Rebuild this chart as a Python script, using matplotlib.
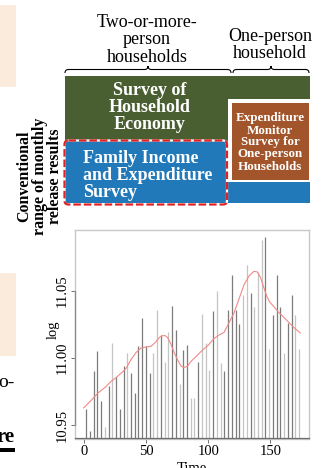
import numpy as np
import matplotlib
matplotlib.use("Agg")
import matplotlib.pyplot as plt
from matplotlib.patches import Rectangle, FancyBboxPatch, PathPatch
from matplotlib.path import Path

# ---- series: log values by time index ----
time = np.arange(2, 174, 3)
log_values = [
    10.962, 10.946, 10.990, 11.005, 10.968, 10.949, 10.979, 11.011, 10.986, 10.962,
    10.994, 11.004, 10.989, 10.974, 11.009, 11.030, 11.009, 10.989, 11.004, 11.036,
    11.017, 10.997, 11.019, 11.039, 11.021, 10.981, 11.006, 11.010, 10.970, 10.970,
    10.997, 11.033, 11.011, 10.991, 11.035, 11.050, 10.996, 10.990, 11.036, 11.062,
    11.036, 11.025, 11.047, 11.069, 11.048, 11.038, 11.064, 11.088, 11.090, 11.007,
    11.032, 11.062, 11.038, 11.004, 11.026, 11.047, 11.032, 11.007,
]
# bar shade per observation: d = dark, l = light
shade = list("dddddldldddldd"
             "ddddlldlldd" "lddll"
             "dllldlldddddlld"
             "llldldddlddll")
trend_t = [0, 6, 11.5, 17, 22, 27, 31.6, 34.3, 38, 42, 46, 50, 54, 58, 61, 63.4, 65.5,
           67.5, 70, 72.8, 75.5, 78.2, 80.8, 83.5, 86.2, 90.2, 95, 100, 104.7, 108.6,
           112.7, 116.6, 120.7, 124.8, 128.8, 132.8, 136.8, 139.5, 142, 144.5, 147,
           149.5, 152, 156.6, 160.5, 164.7, 169, 174]
trend_v = [10.9629, 10.9685, 10.974, 10.978, 10.9826, 10.9862, 10.990, 10.9926, 10.9988,
           11.0040, 11.0074, 11.0082, 11.0086, 11.0120, 11.0155, 11.0166, 11.0166, 11.0150,
           11.0105, 11.0037, 10.9985, 10.9940, 10.9930, 10.9940, 10.9975, 11.0010, 11.0055,
           11.0095, 11.0145, 11.0170, 11.0190, 11.0260, 11.0334, 11.0440, 11.0545, 11.0610,
           11.0645, 11.0640, 11.0600, 11.0530, 11.0460, 11.0415, 11.0390, 11.0340, 11.0305,
           11.0265, 11.0225, 11.0186]
x_ticks = [0, 50, 100, 150]
y_ticks = [10.95, 11.00, 11.05]

SERIF = ["Liberation Serif", "DejaVu Serif"]
plt.rcParams["font.family"] = SERIF

GREEN = "#4a5f31"
BLUE = "#2179ba"
BROWN = "#a2552a"
RED = "#e02222"
BEIGE = "#fbebdc"

fig = plt.figure(figsize=(3.24, 4.68), dpi=100)

# ---- survey coverage diagram (pixel coordinates) ----
ov = fig.add_axes([0, 0, 1, 1], zorder=0)
ov.set_xlim(0, 324)
ov.set_ylim(468, 0)
ov.axis("off")

ov.add_patch(Rectangle((0, 5), 16, 82, color=BEIGE, lw=0))
ov.add_patch(Rectangle((0, 273), 16, 83, color=BEIGE, lw=0))
ov.text(15, 387, "o-", ha="right", va="baseline", fontsize=14, color="black")
ov.text(15, 442, "re", ha="right", va="baseline", fontsize=15, fontweight="bold",
        color="black")
ov.add_patch(Rectangle((0, 448), 15, 4, color="black", lw=0))


def brace(x0, x1, y, h):
    xm = (x0 + x1) / 2
    verts = [(x0, y + h), (x0, y), (x0 + h, y), (xm - h, y), (xm, y), (xm, y - h),
             (xm, y), (xm + h, y), (x1 - h, y), (x1, y), (x1, y + h)]
    codes = [Path.MOVETO, Path.CURVE3, Path.CURVE3, Path.LINETO, Path.CURVE3, Path.CURVE3,
             Path.CURVE3, Path.CURVE3, Path.LINETO, Path.CURVE3, Path.CURVE3]
    ov.add_patch(PathPatch(Path(verts, codes), fc="none", ec="black", lw=0.8))


brace(65, 231, 69.5, 3.5)
brace(233, 309, 69.5, 3.5)

ov.text(147, 40, "Two-or-more-\nperson\nhouseholds", ha="center", va="center",
        fontsize=13, linespacing=1.02)
ov.text(270, 45, "One-person\nhousehold", ha="center", va="center",
        fontsize=13, linespacing=1.02)

ov.add_patch(Rectangle((65, 76), 245, 127, color=GREEN, lw=0))
ov.add_patch(Rectangle((65, 140), 245, 63, color=BLUE, lw=0))
ov.add_patch(Rectangle((228, 99), 82, 83, color="white", lw=0))
ov.add_patch(Rectangle((231.5, 102.5), 77, 77.5, color=BROWN, lw=0))

frame_kw = dict(boxstyle="round,pad=0,rounding_size=4", fc="none", lw=1.6)
ov.add_patch(FancyBboxPatch((64.5, 140.5), 162.5, 64, ec="white", ls="-", **frame_kw))
ov.add_patch(FancyBboxPatch((64.5, 140.5), 162.5, 64, ec=RED, ls=(0, (3.4, 1.3)),
                            **frame_kw))

ov.text(150, 107.5, "Survey of\nHousehold\nEconomy", ha="center", va="center",
        fontsize=13, fontweight="bold", color="white", linespacing=1.03)
ov.text(83, 175.5, "Family Income\nand Expenditure\nSurvey", ha="left", va="center",
        fontsize=13, fontweight="bold", color="white", linespacing=1.0)
ov.text(270, 142.5, "Expenditure\nMonitor\nSurvey for\nOne-person\nHouseholds",
        ha="center", va="center", fontsize=9.4, fontweight="bold", color="white",
        linespacing=1.0)
ov.text(40, 176, "Conventional\nrange of monthly\nrelease results", ha="center",
        va="center", rotation=90, fontsize=11.5, fontweight="bold", linespacing=0.95)

# ---- time series panel ----
ax = fig.add_axes([75 / 324, (468 - 438.5) / 468, 234 / 324, 208.5 / 468], zorder=1)
ax.patch.set_alpha(0)
colors = ["#7c7c7c" if s == "d" else "#c4c4c4" for s in shade]
ax.vlines(time, 10.90, log_values, colors=colors, lw=0.9)
ax.plot(trend_t, trend_v, color="#f08a86", lw=0.8)

xlo, xhi = -7, 181
ylo, yhi = 10.9401, 11.0952
ax.set_xlim(xlo, xhi)
ax.set_ylim(ylo, yhi)
for sp in ax.spines.values():
    sp.set_color("#c8c8c8")
    sp.set_linewidth(1.0)
ax.plot([xlo, xhi], [ylo, ylo], color="#6e6e6e", lw=0.9, clip_on=False, zorder=3)
ax.plot([xlo, xlo], [y_ticks[0], y_ticks[-1]], color="#8a8a8a", lw=0.9, clip_on=False,
        zorder=3)

ax.set_xticks(x_ticks)
ax.set_xticklabels([str(v) for v in x_ticks])
ax.set_yticks(y_ticks)
ax.set_yticklabels([f"{v:.2f}" for v in y_ticks], rotation=90, va="center")
ax.tick_params(direction="out", length=3, width=0.7, color="#6e6e6e", labelsize=10.5,
               pad=1.5)

fig.text(53.5 / 324, 1 - 330 / 468, "log", rotation=90, ha="center", va="center",
         fontsize=10.5)
fig.text(192 / 324, 1 - 461.5 / 468, "Time", ha="center", va="top", fontsize=10.5)

fig.savefig("out.png", dpi=100)
